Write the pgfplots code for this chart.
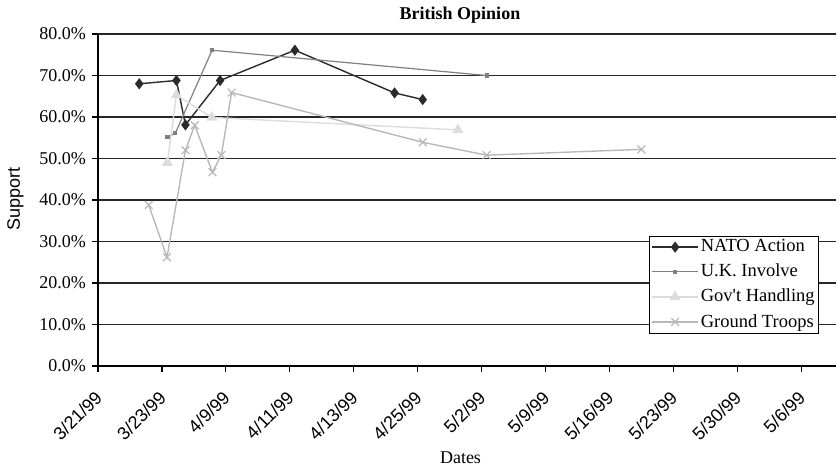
\documentclass[border=0pt]{standalone}
\usepackage{fontspec}
\setmainfont{Liberation Serif}
\setsansfont{Liberation Sans}
\usepackage{pgfplots}
\pgfplotsset{compat=1.18}
\definecolor{natoc}{HTML}{2B2B2B}
\definecolor{ukc}{HTML}{808080}
\definecolor{govc}{HTML}{DCDCDC}
\definecolor{gtc}{HTML}{B8B8B8}
\definecolor{gridc}{HTML}{262626}
\begin{document}
\fontsize{18}{21}\selectfont
\begin{tikzpicture}
\path[use as bounding box] (-98pt,-103pt) rectangle (740pt,366pt);
\begin{axis}[
  at={(0pt,0pt)}, anchor=south west,
  scale only axis, width=738pt, height=332pt,
  xmin=0, xmax=11.545, ymin=0, ymax=80,
  axis lines*=left,
  axis line style={line width=1.6pt, black, -},
  tick align=outside,
  major tick length=6pt,
  tick style={line width=1.2pt, black},
  xtick={0,...,11},
  xticklabels={3/21/99,3/23/99,4/9/99,4/11/99,4/13/99,4/25/99,5/2/99,5/9/99,5/16/99,5/23/99,5/30/99,5/6/99},
  xticklabel style={font=\sffamily\fontsize{18}{20}\selectfont, xshift=-4pt, yshift=-9pt, rotate=45, anchor=north east},
  ytick={0,10,...,80},
  yticklabel={\pgfmathprintnumber[fixed,fixed zerofill,precision=1]{\tick}\%},
  /pgf/number format/assume math mode=true,
  yticklabel style={font=\fontsize{18}{20}\selectfont},
  ymajorgrids,
  grid style={line width=1.2pt, gridc},
  title={British Opinion},
  title style={at={(axis description cs:0.4905,1)}, anchor=base, yshift=9pt, font=\bfseries\fontsize{18}{20}\selectfont},
  xlabel={Dates},
  xlabel style={at={(axis description cs:0.4912,0)}, anchor=base, yshift=-97pt, font=\fontsize{18}{20}\selectfont},
  ylabel={Support},
  ylabel style={at={(axis description cs:-0.1057,0.504)}, anchor=base, font=\sffamily\fontsize{18}{20}\selectfont},
  legend style={at={(axis description cs:0.7466,0.3925)}, anchor=north west, draw=black, line width=0.9pt, font=\fontsize{18.5}{20}\selectfont, inner xsep=2pt, inner ysep=2.5pt, row sep=7.5pt, nodes={inner xsep=2pt, inner ysep=1pt}},
  legend cell align=left,
  legend image code/.code={\draw[mark repeat=2,mark phase=2,#1] plot coordinates {(0pt,0pt) (23pt,0pt) (46pt,0pt)};},
  clip=false,
]
\addplot[color=natoc, line width=1.4pt, mark=diamond*, mark size=4.5pt, mark options={solid, fill=natoc}]
  coordinates {(0.645,68) (1.227,68.8) (1.368,58.1) (1.91,68.8) (3.08,76.1) (4.64,65.8) (5.08,64.2)};
\addlegendentry{NATO Action}
\addplot[color=ukc, line width=1.2pt, mark=square*, mark size=1.5pt, mark options={solid, fill=ukc}]
  coordinates {(1.086,55.1) (1.21,56.1) (1.785,76.1) (6.08,70.0)};
\addlegendentry{U.K. Involve}
\addplot[color=govc, line width=1.4pt, mark=triangle*, mark size=5pt, mark options={solid, fill=govc}]
  coordinates {(1.086,49) (1.227,65.3) (1.78,59.9) (5.63,56.9)};
\addlegendentry{Gov\textquotesingle t Handling}
\addplot[color=gtc, line width=1.4pt, mark=x, mark size=5.5pt, mark options={solid, line width=1.2pt}]
  coordinates {(0.793,38.8) (1.08,26.2) (1.368,52) (1.513,58) (1.79,46.7) (1.93,50.8) (2.09,65.9) (5.08,53.9) (6.08,50.8) (8.5,52.2)};
\addlegendentry{Ground Troops}
\end{axis}
\end{tikzpicture}
\end{document}
